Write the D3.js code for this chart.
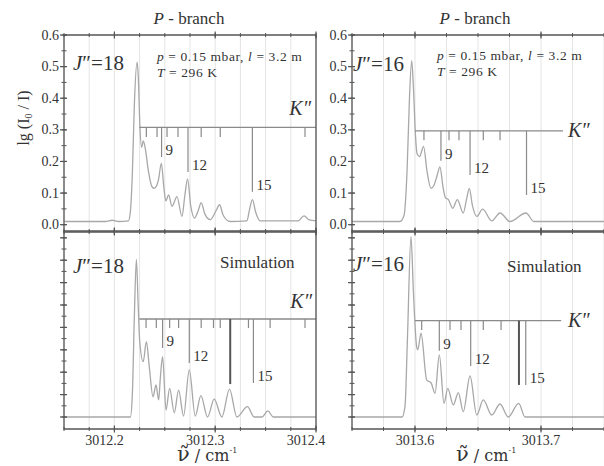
<!DOCTYPE html>
<html>
<head>
<meta charset="utf-8">
<script src="https://cdn.jsdelivr.net/npm/d3@7"></script>
<style>
  body { margin: 0; background: #fff; }
  svg text { font-family: "Liberation Serif", "DejaVu Serif", serif; fill: #333; }
</style>
</head>
<body>
<div id="chart"></div>
<script>
// observed spectrum J''=18 (lg(I0/I) vs wavenumber)
const obs18Wn = [3012.1505, 3012.1911, 3012.1980, 3012.2040, 3012.2139, 3012.2158, 3012.2178, 3012.2198, 3012.2225, 3012.2238,
  3012.2252, 3012.2270, 3012.2287, 3012.2307, 3012.2337, 3012.2373, 3012.2396, 3012.2421, 3012.2436, 3012.2466,
  3012.2490, 3012.2510, 3012.2538, 3012.2571, 3012.2621, 3012.2670, 3012.2698, 3012.2726, 3012.2757, 3012.2795,
  3012.2832, 3012.2861, 3012.2896, 3012.2950, 3012.3010, 3012.3043, 3012.3079, 3012.3149, 3012.3314, 3012.3342,
  3012.3369, 3012.3401, 3012.3446, 3012.3822, 3012.3881, 3012.3931, 3012.40];
const obs18Abs = [0.010, 0.010, 0.014, 0.010, 0.012, 0.04, 0.16, 0.38, 0.514, 0.46,
  0.32, 0.245, 0.265, 0.24, 0.17, 0.12, 0.115, 0.125, 0.14, 0.194,
  0.12, 0.075, 0.094, 0.058, 0.089, 0.026, 0.09, 0.145, 0.06, 0.021,
  0.045, 0.07, 0.035, 0.016, 0.045, 0.063, 0.03, 0.010, 0.012, 0.05,
  0.079, 0.04, 0.012, 0.012, 0.028, 0.015, 0.012];

// observed spectrum J''=16
const obs16Wn = [3013.55, 3013.5881, 3013.5913, 3013.5937, 3013.5956, 3013.5974, 3013.5988, 3013.6004, 3013.6016, 3013.6036,
  3013.6068, 3013.6095, 3013.6127, 3013.6151, 3013.6175, 3013.6198, 3013.6222, 3013.6242, 3013.6264, 3013.6299,
  3013.6336, 3013.6383, 3013.6409, 3013.6431, 3013.6456, 3013.6490, 3013.6537, 3013.6609, 3013.6675, 3013.6754,
  3013.6881, 3013.6944, 3013.75];
const obs16Abs = [0.010, 0.010, 0.03, 0.17, 0.40, 0.519, 0.43, 0.28, 0.225, 0.215,
  0.248, 0.17, 0.115, 0.125, 0.155, 0.183, 0.12, 0.085, 0.08, 0.052,
  0.079, 0.037, 0.08, 0.115, 0.06, 0.026, 0.049, 0.012, 0.037, 0.010,
  0.037, 0.010, 0.010];

// simulated spectra (arbitrary units)
const sim18Wn = [3012.1505, 3012.2158, 3012.2178, 3012.2198, 3012.2218, 3012.2236, 3012.2250, 3012.2286, 3012.2317, 3012.2347,
  3012.2383, 3012.2413, 3012.2439, 3012.2455, 3012.2478, 3012.2512, 3012.2548, 3012.2594, 3012.2637, 3012.2686,
  3012.2743, 3012.2802, 3012.2858, 3012.2924, 3012.2990, 3012.3066, 3012.3142, 3012.3215, 3012.3320, 3012.3386,
  3012.3465, 3012.3522, 3012.3577, 3012.40];
const sim18Int = [0, 0, 0.1, 0.45, 0.704, 0.5, 0.344, 0.247, 0.336, 0.22,
  0.09, 0.143, 0.076, 0.17, 0.269, 0.031, 0.128, 0.019, 0.12, 0.004,
  0.21, 0.004, 0.095, 0, 0.08, 0, 0.124, 0, 0.046, 0,
  0, 0.027, 0, 0];

const sim16Wn = [3013.55, 3013.5897, 3013.5921, 3013.5940, 3013.5968, 3013.5988, 3013.6013, 3013.6022, 3013.6048, 3013.6093,
  3013.6127, 3013.6159, 3013.6193, 3013.6230, 3013.6260, 3013.6304, 3013.6344, 3013.6383, 3013.6437, 3013.6490,
  3013.6542, 3013.6609, 3013.6675, 3013.6740, 3013.6823, 3013.6873, 3013.75];
const sim16Int = [0, 0, 0.05, 0.35, 0.805, 0.55, 0.314, 0.30, 0.374, 0.165,
  0.153, 0.106, 0.277, 0.061, 0.128, 0.054, 0.109, 0.024, 0.183, 0.009,
  0.076, 0.009, 0.058, 0, 0.061, 0, 0];

// K'' assignment combs: line positions, where each tick ends, labels
const combObs18Wn = [3012.2317, 3012.2423, 3012.2468, 3012.2522, 3012.2631, 3012.2730, 3012.2861, 3012.3050, 3012.3369, 3012.3891];
const combObs18End = [0.277, 0.277, 0.214, 0.277, 0.277, 0.167, 0.277, 0.277, 0.104, 0.277];
const combObs18Lab = ['', '', '9', '', '', '12', '', '', '15', ''];

const combObs16Wn = [3013.6071, 3013.6206, 3013.6270, 3013.6349, 3013.6437, 3013.6542, 3013.6675, 3013.6885];
const combObs16End = [0.267, 0.202, 0.267, 0.267, 0.157, 0.267, 0.267, 0.094];
const combObs16Lab = ['', '9', '', '', '12', '', '', '15'];

const combSim18Wn = [3012.2314, 3012.2416, 3012.2478, 3012.2548, 3012.2637, 3012.2743, 3012.2861, 3012.2983, 3012.3050, 3012.3149, 3012.3330, 3012.3379, 3012.3545, 3012.3891];
const combSim18End = [0.397, 0.397, 0.308, 0.397, 0.397, 0.241, 0.397, 0.397, 0.397, 0.147, 0.397, 0.152, 0.397, 0.397];
const combSim18Lab = ['', '', '9', '', '', '12', '', '', '', '', '', '15', '', ''];

const combSim16Wn = [3013.6053, 3013.6193, 3013.6278, 3013.6365, 3013.6442, 3013.6542, 3013.6683, 3013.6825, 3013.6879];
const combSim16End = [0.388, 0.296, 0.388, 0.388, 0.228, 0.388, 0.388, 0.143, 0.143];
const combSim16Lab = ['', '9', '', '', '12', '', '', '', '15'];

const xTicksLeft = [3012.2, 3012.3, 3012.4];
const xTicksRight = [3013.6, 3013.7];
const yTicksObs = [0, 0.1, 0.2, 0.3, 0.4, 0.5, 0.6];

const width = 604;
const height = 466;

const svg = d3.select('#chart').append('svg')
  .attr('width', width)
  .attr('height', height);

svg.append('rect').attr('width', width).attr('height', height).attr('fill', '#fff');

// scales
const xLeft = d3.scaleLinear().domain([3012.15, 3012.40]).range([64, 316]);
const xRight = d3.scaleLinear().domain([3013.55, 3013.75]).range([352, 604]);
const yTop = d3.scaleLinear().domain([-0.02, 0.6]).range([231, 35]);
const yBot = d3.scaleLinear().domain([-0.0536, 0.826]).range([429, 232]);

function minorVals(x, step) {
  const d = x.domain();
  const n = Math.round((d[1] - d[0]) / step);
  return d3.range(n + 1).map(i => +(d[0] + i * step).toFixed(4));
}

let clipId = 0;
function panel(x, y, opt) {
  const g = svg.append('g');
  const [x0, x1] = x.range();
  const [y0, y1] = [y.range()[1], y.range()[0]];
  const xr = opt.openRight ? x1 + 3 : x1;

  // faint vertical grid
  g.selectAll('.grid').data(minorVals(x, 0.025)).enter().append('line')
    .attr('x1', d => x(d)).attr('x2', d => x(d))
    .attr('y1', y0).attr('y2', y1)
    .attr('stroke', '#e4e4e4').attr('stroke-width', 1);

  // spectrum
  const id = 'clip' + (clipId++);
  svg.append('clipPath').attr('id', id).append('rect')
    .attr('x', x0).attr('y', y0).attr('width', xr - x0).attr('height', y1 - y0);
  const pts = opt.wn.map((w, i) => [w, opt.val[i]]);
  g.append('path')
    .attr('clip-path', 'url(#' + id + ')')
    .attr('d', d3.line().x(d => x(d[0])).y(d => y(d[1])).curve(d3.curveMonotoneX)(pts))
    .attr('fill', 'none').attr('stroke', '#a8a8a8').attr('stroke-width', 1.3);

  // K'' comb
  const comb = g.append('g');
  comb.append('line')
    .attr('x1', x(opt.combFrom)).attr('x2', x(opt.combTo))
    .attr('y1', y(opt.combLevel)).attr('y2', y(opt.combLevel))
    .attr('stroke', '#8a8a8a').attr('stroke-width', 1.3);
  comb.selectAll('.tk').data(opt.combWn).enter().append('line')
    .attr('x1', d => x(d)).attr('x2', d => x(d))
    .attr('y1', y(opt.combLevel))
    .attr('y2', (d, i) => y(opt.combEnd[i]))
    .attr('stroke', (d, i) => i === opt.thick ? '#555' : '#8a8a8a')
    .attr('stroke-width', (d, i) => i === opt.thick ? 2 : 1.2);
  comb.selectAll('.lb').data(opt.combWn).enter().append('text')
    .attr('x', d => x(d) + 4)
    .attr('y', (d, i) => y(opt.combEnd[i]) - 2)
    .attr('font-size', 15)
    .text((d, i) => opt.combLab[i]);

  // frame
  g.append('path')
    .attr('d', `M${xr},${y0}H${x0}V${y1}H${xr}` + (opt.openRight ? '' : 'Z'))
    .attr('fill', 'none').attr('stroke', '#555').attr('stroke-width', 1.3);

  // x ticks on top and bottom edges, crossing the frame
  const xMinor = minorVals(x, 0.025);
  [y0, y1].forEach(yy => {
    g.selectAll(null).data(xMinor).enter().append('line')
      .attr('x1', d => x(d)).attr('x2', d => x(d))
      .attr('y1', yy - 2).attr('y2', yy + 2)
      .attr('stroke', '#555').attr('stroke-width', 1);
    g.selectAll(null).data(opt.xMajor).enter().append('line')
      .attr('x1', d => x(d)).attr('x2', d => x(d))
      .attr('y1', yy - 3.5).attr('y2', yy + 3.5)
      .attr('stroke', '#555').attr('stroke-width', 1.2);
  });

  // y ticks on the left edge
  const yd = y.domain();
  g.selectAll(null).data(d3.range(0, yd[1] + 1e-9, 0.05)).enter().append('line')
    .attr('x1', x0 - 2.5).attr('x2', x0 + 2.5)
    .attr('y1', d => y(d)).attr('y2', d => y(d))
    .attr('stroke', '#555').attr('stroke-width', 1);
  g.selectAll(null).data(d3.range(0, yd[1] + 1e-9, 0.1)).enter().append('line')
    .attr('x1', x0 - 4).attr('x2', x0 + 3)
    .attr('y1', d => y(d)).attr('y2', d => y(d))
    .attr('stroke', '#555').attr('stroke-width', 1.2);

  if (opt.yLabels) {
    g.selectAll(null).data(opt.yLabels).enter().append('text')
      .attr('x', x0 - 5).attr('y', d => y(d) + 4.5)
      .attr('text-anchor', 'end').attr('font-size', 14)
      .text(d => d3.format('.1f')(d));
  }
  if (opt.xLabels) {
    g.selectAll(null).data(opt.xLabels).enter().append('text')
      .attr('x', d => x(d) + opt.xLabelShift).attr('y', y1 + 16)
      .attr('text-anchor', 'middle').attr('font-size', 14)
      .text(d => d3.format('.1f')(d));
  }
  return g;
}

panel(xLeft, yTop, {
  wn: obs18Wn, val: obs18Abs,
  combWn: combObs18Wn, combEnd: combObs18End, combLab: combObs18Lab,
  combLevel: 0.308, combFrom: 3012.2248, combTo: 3012.40, thick: -1,
  xMajor: xTicksLeft, yLabels: yTicksObs
});
panel(xRight, yTop, {
  wn: obs16Wn, val: obs16Abs,
  combWn: combObs16Wn, combEnd: combObs16End, combLab: combObs16Lab,
  combLevel: 0.297, combFrom: 3013.600, combTo: 3013.7175, thick: -1,
  xMajor: xTicksRight, yLabels: yTicksObs, openRight: true
});
panel(xLeft, yBot, {
  wn: sim18Wn, val: sim18Int,
  combWn: combSim18Wn, combEnd: combSim18End, combLab: combSim18Lab,
  combLevel: 0.4375, combFrom: 3012.2248, combTo: 3012.40, thick: 9,
  xMajor: xTicksLeft, xLabels: xTicksLeft, xLabelShift: -10
});
panel(xRight, yBot, {
  wn: sim16Wn, val: sim16Int,
  combWn: combSim16Wn, combEnd: combSim16End, combLab: combSim16Lab,
  combLevel: 0.43, combFrom: 3013.600, combTo: 3013.716, thick: 7,
  xMajor: xTicksRight, xLabels: xTicksRight, xLabelShift: 0, openRight: true
});

// annotations
function branchTitle(cx) {
  const t = svg.append('text').attr('x', cx).attr('y', 24)
    .attr('text-anchor', 'middle').attr('font-size', 17);
  t.append('tspan').attr('font-style', 'italic').text('P');
  t.append('tspan').text(' - branch');
}
branchTitle(189);
branchTitle(475);

function conditions(x0, yb) {
  const t1 = svg.append('text').attr('x', x0).attr('y', yb)
    .attr('font-size', 13.5).attr('letter-spacing', 0.6);
  t1.append('tspan').attr('font-style', 'italic').text('p');
  t1.append('tspan').text(' = 0.15 mbar, ');
  t1.append('tspan').attr('font-style', 'italic').text('l');
  t1.append('tspan').text(' = 3.2 m');
  const t2 = svg.append('text').attr('x', x0).attr('y', yb + 15.5)
    .attr('font-size', 13.5).attr('letter-spacing', 0.6);
  t2.append('tspan').attr('font-style', 'italic').text('T');
  t2.append('tspan').text(' = 296 K');
}
conditions(157, 61);
conditions(437, 60);

function jLabel(x0, yb, j) {
  const t = svg.append('text').attr('x', x0).attr('y', yb).attr('font-size', 21);
  t.append('tspan').attr('font-style', 'italic').text('J');
  t.append('tspan').text('″=' + j);
}
jLabel(73, 70, 18);
jLabel(353, 71, 16);
jLabel(73, 273, 18);
jLabel(353, 271, 16);

function kLabel(x0, yb, anchor) {
  svg.append('text').attr('x', x0).attr('y', yb)
    .attr('text-anchor', anchor).attr('font-size', 20)
    .attr('font-style', 'italic').text('K″');
}
kLabel(311, 115, 'end');
kLabel(312, 308, 'end');
kLabel(568, 137, 'start');
kLabel(568, 327, 'start');

svg.append('text').attr('x', 220).attr('y', 268).attr('font-size', 17).text('Simulation');
svg.append('text').attr('x', 507).attr('y', 272).attr('font-size', 17).text('Simulation');

// y axis title
const yt = svg.append('text')
  .attr('transform', 'translate(29,118) rotate(-90)')
  .attr('text-anchor', 'middle').attr('font-size', 16);
yt.append('tspan').text('lg (I');
yt.append('tspan').attr('font-size', 10).attr('dy', 3).text('0');
yt.append('tspan').attr('dy', -3).text(' / I)');

// x axis titles
function xTitle(x0) {
  const t = svg.append('text').attr('x', x0).attr('y', 461)
    .style('font-family', '"DejaVu Serif", serif').attr('font-size', 19);
  t.append('tspan').attr('font-size', 21).text('ν\u0303');
  t.append('tspan').attr('font-size', 16).text(' / cm');
  t.append('tspan').attr('font-size', 8).attr('dy', -8).text('-1');
}
xTitle(177);
xTitle(456);
</script>
</body>
</html>
